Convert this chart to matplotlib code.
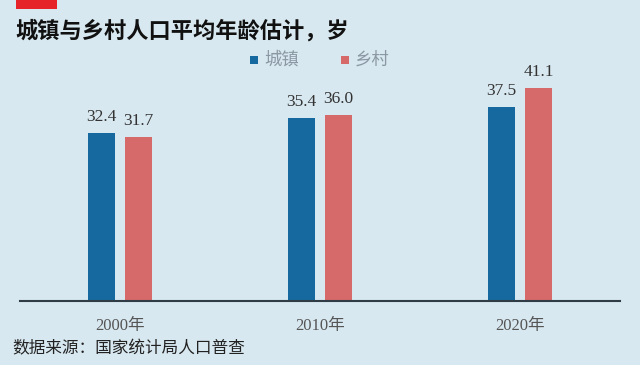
import matplotlib
matplotlib.use("Agg")
import matplotlib.pyplot as plt
from matplotlib.patches import Rectangle
import numpy as np

years = ["2000年", "2010年", "2020年"]
urban = [32.4, 35.4, 37.5]
rural = [31.7, 36.0, 41.1]
series_names = ["城镇", "乡村"]
title = "城镇与乡村人口平均年龄估计，岁"
source = "数据来源：国家统计局人口普查"

bg = "#d8e8f0"
c_blue = "#15699e"
c_red = "#d66a6a"
num_font = ["Liberation Serif", "Noto Sans CJK SC"]
cjk_font = ["Noto Sans CJK SC", "DejaVu Sans"]

fig = plt.figure(figsize=(6.4, 3.65), dpi=100, facecolor=bg)
ax = fig.add_axes([20/640, 64/365, 600/640, 231/365], facecolor=bg)

x = np.arange(len(years))
w = 0.135
off = 0.093
b1 = ax.bar(x - off, urban, w, color=c_blue, zorder=2)
b2 = ax.bar(x + off, rural, w, color=c_red, zorder=2)
for bars, vals in ((b1, urban), (b2, rural)):
    for r, v in zip(bars, vals):
        ax.text(r.get_x() + r.get_width()/2, v + 1.5, f"{v:.1f}", ha="center", va="bottom",
                fontsize=12.5, color="#333333", family=num_font)

ax.set_xlim(-0.5, 2.5)
ax.set_ylim(0, 231/5.18)
for s in ["top", "right", "left"]:
    ax.spines[s].set_visible(False)
ax.spines["bottom"].set_color("#2f3b45")
ax.spines["bottom"].set_linewidth(1.5)
ax.set_yticks([])
ax.set_xticks(x)
ax.set_xticklabels(years, family=num_font, fontsize=12, color="#555555")
ax.tick_params(axis="x", length=0, pad=12)

fig.patches.append(Rectangle((16/640, 1 - 9/365), 41/640, 9/365, transform=fig.transFigure,
                             facecolor="#e52329", edgecolor="none"))
fig.text(15/640, 1 - 31/365, title, fontsize=16, fontweight="bold", color="#111111",
         family=cjk_font, va="center", ha="left")

# legend
fig.patches.append(Rectangle((250/640, 1 - 64/365), 8/640, 8/365, transform=fig.transFigure,
                             facecolor=c_blue, edgecolor="none"))
fig.text(264/640, 1 - 60/365, series_names[0], fontsize=12.5, color="#8a98a3", family=cjk_font,
         va="center", ha="left")
fig.patches.append(Rectangle((341/640, 1 - 64/365), 8/640, 8/365, transform=fig.transFigure,
                             facecolor=c_red, edgecolor="none"))
fig.text(355/640, 1 - 60/365, series_names[1], fontsize=12.5, color="#8a98a3", family=cjk_font,
         va="center", ha="left")

fig.text(12/640, 1 - 349/365, source, fontsize=12, color="#222222", family=cjk_font,
         va="center", ha="left")

fig.savefig("out.png", dpi=100, facecolor=bg)
